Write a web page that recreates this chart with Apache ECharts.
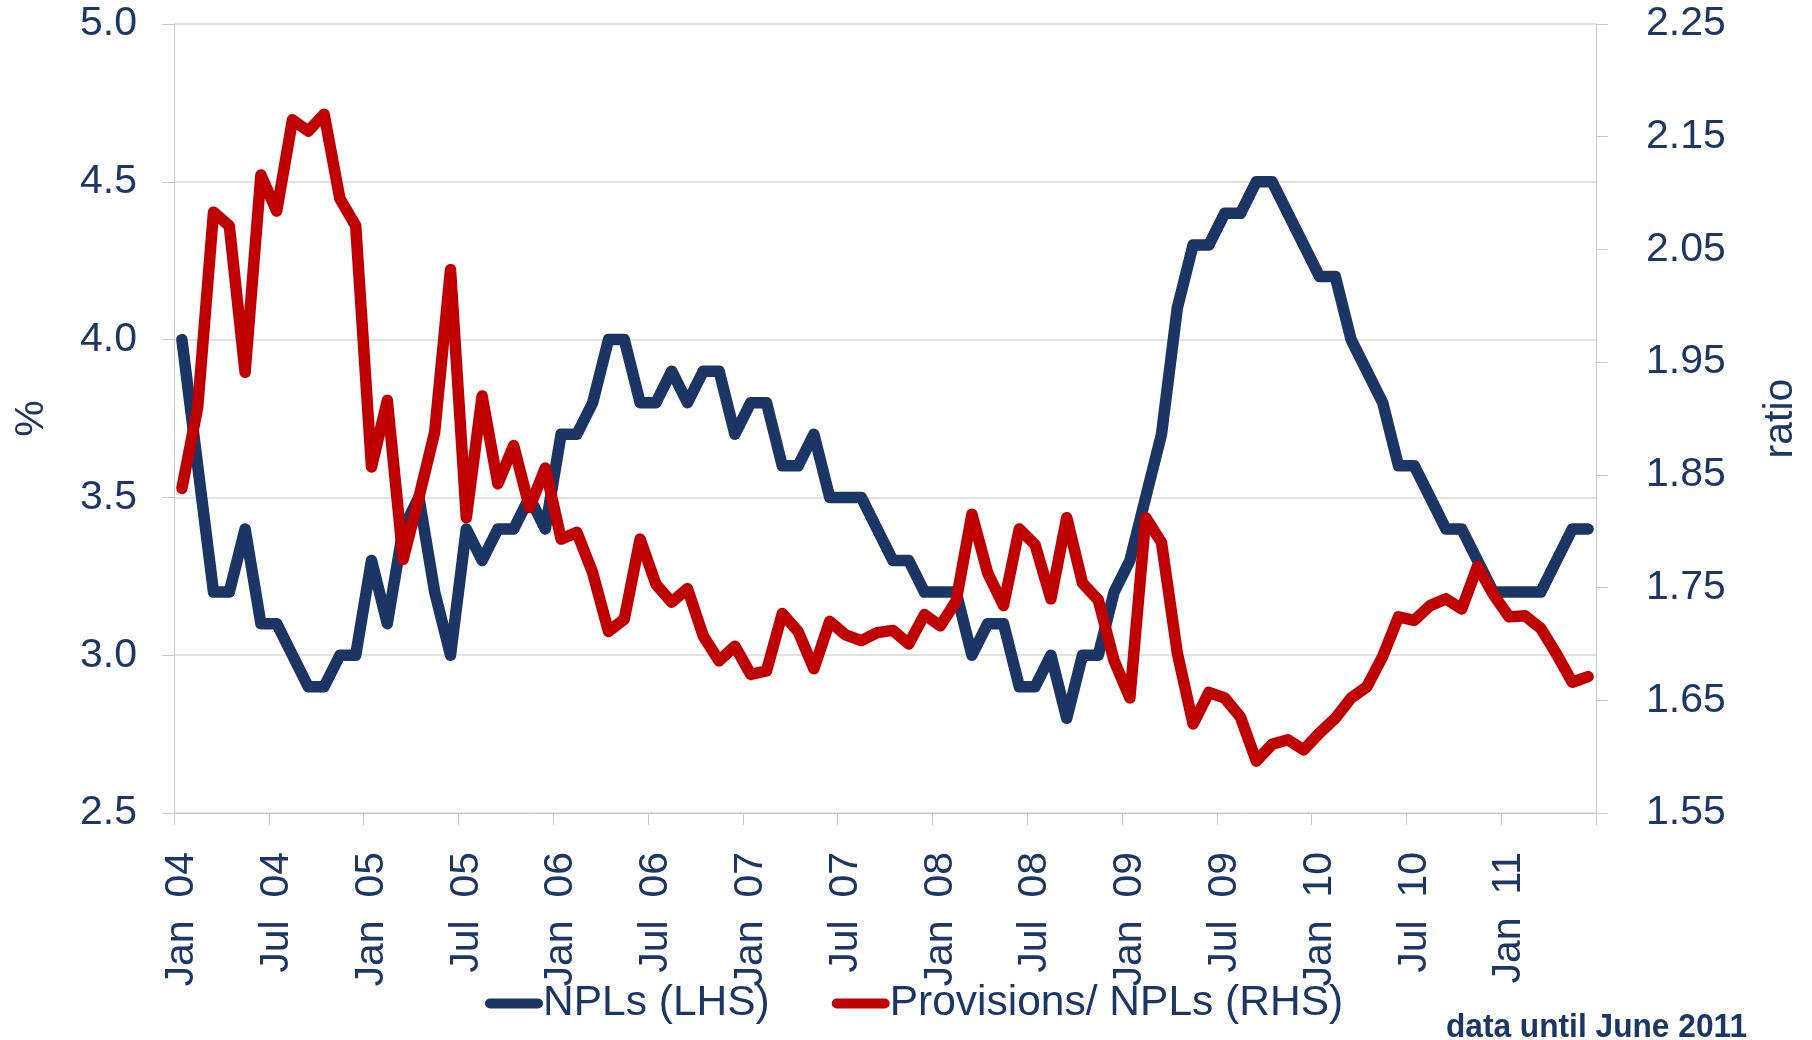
<!DOCTYPE html>
<html>
<head>
<meta charset="utf-8">
<title>NPLs and Provisions/NPLs</title>
<script src="https://cdn.jsdelivr.net/npm/echarts@6/dist/echarts.min.js"></script>
<style>
  html, body { margin: 0; padding: 0; background: #ffffff; }
  #chart { width: 1812px; height: 1040px; }
</style>
</head>
<body>
<div id="chart"></div>
<script>
// Monthly observations, Jan 2004 - Jun 2011
const months = [
  'Jan 04','Feb 04','Mar 04','Apr 04','May 04','Jun 04','Jul 04','Aug 04','Sep 04','Oct 04','Nov 04','Dec 04',
  'Jan 05','Feb 05','Mar 05','Apr 05','May 05','Jun 05','Jul 05','Aug 05','Sep 05','Oct 05','Nov 05','Dec 05',
  'Jan 06','Feb 06','Mar 06','Apr 06','May 06','Jun 06','Jul 06','Aug 06','Sep 06','Oct 06','Nov 06','Dec 06',
  'Jan 07','Feb 07','Mar 07','Apr 07','May 07','Jun 07','Jul 07','Aug 07','Sep 07','Oct 07','Nov 07','Dec 07',
  'Jan 08','Feb 08','Mar 08','Apr 08','May 08','Jun 08','Jul 08','Aug 08','Sep 08','Oct 08','Nov 08','Dec 08',
  'Jan 09','Feb 09','Mar 09','Apr 09','May 09','Jun 09','Jul 09','Aug 09','Sep 09','Oct 09','Nov 09','Dec 09',
  'Jan 10','Feb 10','Mar 10','Apr 10','May 10','Jun 10','Jul 10','Aug 10','Sep 10','Oct 10','Nov 10','Dec 10',
  'Jan 11','Feb 11','Mar 11','Apr 11','May 11','Jun 11'
];

// Non-performing loans, % of total loans (left axis)
const nplRatio = [
  4.0, 3.6, 3.2, 3.2, 3.4, 3.1, 3.1, 3.0, 2.9, 2.9, 3.0, 3.0,
  3.3, 3.1, 3.4, 3.5, 3.2, 3.0, 3.4, 3.3, 3.4, 3.4, 3.5, 3.4,
  3.7, 3.7, 3.8, 4.0, 4.0, 3.8, 3.8, 3.9, 3.8, 3.9, 3.9, 3.7,
  3.8, 3.8, 3.6, 3.6, 3.7, 3.5, 3.5, 3.5, 3.4, 3.3, 3.3, 3.2,
  3.2, 3.2, 3.0, 3.1, 3.1, 2.9, 2.9, 3.0, 2.8, 3.0, 3.0, 3.2,
  3.3, 3.5, 3.7, 4.1, 4.3, 4.3, 4.4, 4.4, 4.5, 4.5, 4.4, 4.3,
  4.2, 4.2, 4.0, 3.9, 3.8, 3.6, 3.6, 3.5, 3.4, 3.4, 3.3, 3.2,
  3.2, 3.2, 3.2, 3.3, 3.4, 3.4
];

// Provisions to NPLs, ratio (right axis)
const provisionsToNpl = [
  1.838, 1.910, 2.083, 2.071, 1.941, 2.116, 2.084, 2.165, 2.155, 2.170, 2.095, 2.071,
  1.857, 1.916, 1.775, 1.830, 1.888, 2.032, 1.812, 1.920, 1.842, 1.876, 1.821, 1.856,
  1.793, 1.799, 1.763, 1.711, 1.722, 1.793, 1.753, 1.737, 1.749, 1.707, 1.685, 1.698,
  1.673, 1.676, 1.727, 1.711, 1.678, 1.720, 1.708, 1.703, 1.710, 1.712,
  1.700, 1.726, 1.716, 1.738, 1.815, 1.763, 1.734, 1.802, 1.788, 1.740, 1.812, 1.754,
  1.739, 1.685, 1.652, 1.812, 1.790, 1.692, 1.629, 1.657, 1.652, 1.635, 1.596, 1.611,
  1.615, 1.606, 1.621, 1.634, 1.652, 1.662, 1.689, 1.724, 1.721, 1.734, 1.740, 1.731,
  1.769, 1.744, 1.724, 1.725, 1.714, 1.691, 1.666, 1.671
];

const leftTicks = { min: 2.5, max: 5.0, step: 0.5 };
const rightTickLabels = [1.55, 1.65, 1.75, 1.85, 1.95, 2.05, 2.15, 2.25];

const seriesNames = ['NPLs (LHS)', 'Provisions/ NPLs (RHS)'];
const footnote = 'data until June 2011';

const NAVY = '#1b3564';
const RED = '#c00000';
const TEXT = '#1c3766';
const GRID = '#d9d9d9';
const FONT = '"Liberation Sans", Arial, sans-serif';

const chart = echarts.init(document.getElementById('chart'), null, { renderer: 'canvas' });

const legendIcon = 'path://M5,0 L53,0 A5,5 0 0 1 53,10 L5,10 A5,5 0 0 1 5,0 Z';

chart.setOption({
  animation: false,
  backgroundColor: '#ffffff',
  grid: { left: 174, right: 216, top: 24, bottom: 227, containLabel: false },
  legend: {
    data: [
      { name: seriesNames[0], icon: legendIcon },
      { name: seriesNames[1], icon: legendIcon }
    ],
    left: 485,
    top: 982,
    padding: 0,
    itemWidth: 58,
    itemHeight: 11,
    itemGap: 62,
    textStyle: { fontFamily: FONT, fontSize: 42.5, color: TEXT, padding: [0, 0, 0, -5] }
  },
  xAxis: {
    type: 'category',
    data: months,
    boundaryGap: true,
    axisLine: { show: true, lineStyle: { color: '#c9c9c9', width: 1 } },
    axisTick: { show: true, interval: 5, length: 12, lineStyle: { color: '#c9c9c9' } },
    axisLabel: {
      interval: 5,
      rotate: 90,
      margin: 39,
      fontFamily: FONT,
      fontSize: 41,
      color: TEXT,
      // month and year set apart by a wide gap
      formatter: v => v.replace(' ', '  ')
    },
    splitLine: { show: false }
  },
  yAxis: [
    {
      type: 'value',
      position: 'left',
      min: leftTicks.min,
      max: leftTicks.max,
      interval: leftTicks.step,
      name: '%',
      nameLocation: 'middle',
      nameGap: 122,
      nameTextStyle: { fontFamily: FONT, fontSize: 41, color: TEXT },
      axisLine: { show: true, lineStyle: { color: '#c9c9c9', width: 1 } },
      axisTick: { show: true, length: 12, lineStyle: { color: '#c9c9c9' } },
      axisLabel: {
        margin: 37,
        fontFamily: FONT,
        fontSize: 41,
        color: TEXT,
        formatter: v => v.toFixed(1)
      },
      splitLine: { show: true, lineStyle: { color: GRID, width: 1.5 } }
    },
    {
      type: 'value',
      position: 'right',
      min: rightTickLabels[0],
      max: rightTickLabels[rightTickLabels.length - 1],
      name: 'ratio',
      nameLocation: 'middle',
      nameGap: 164,
      nameTextStyle: { fontFamily: FONT, fontSize: 41, color: TEXT },
      axisLine: { show: true, lineStyle: { color: '#c9c9c9', width: 1 } },
      axisTick: { show: true, length: 12, customValues: rightTickLabels, lineStyle: { color: '#c9c9c9' } },
      axisLabel: {
        margin: 50,
        customValues: rightTickLabels,
        fontFamily: FONT,
        fontSize: 41,
        color: TEXT,
        formatter: v => v.toFixed(2)
      },
      splitLine: { show: false }
    }
  ],
  series: [
    {
      name: seriesNames[0],
      type: 'line',
      yAxisIndex: 0,
      data: nplRatio,
      showSymbol: false,
      symbol: 'none',
      color: NAVY,
      lineStyle: { color: NAVY, width: 11.5, cap: 'round', join: 'round' },
      z: 2
    },
    {
      name: seriesNames[1],
      type: 'line',
      yAxisIndex: 1,
      data: provisionsToNpl,
      showSymbol: false,
      symbol: 'none',
      color: RED,
      lineStyle: { color: RED, width: 11.5, cap: 'round', join: 'round' },
      z: 3
    }
  ],
  graphic: [
    {
      type: 'text',
      right: 65,
      top: 1011,
      scaleX: 0.96,
      style: {
        text: footnote,
        font: 'bold 33px ' + FONT,
        fill: TEXT
      }
    }
  ]
});
</script>
</body>
</html>
